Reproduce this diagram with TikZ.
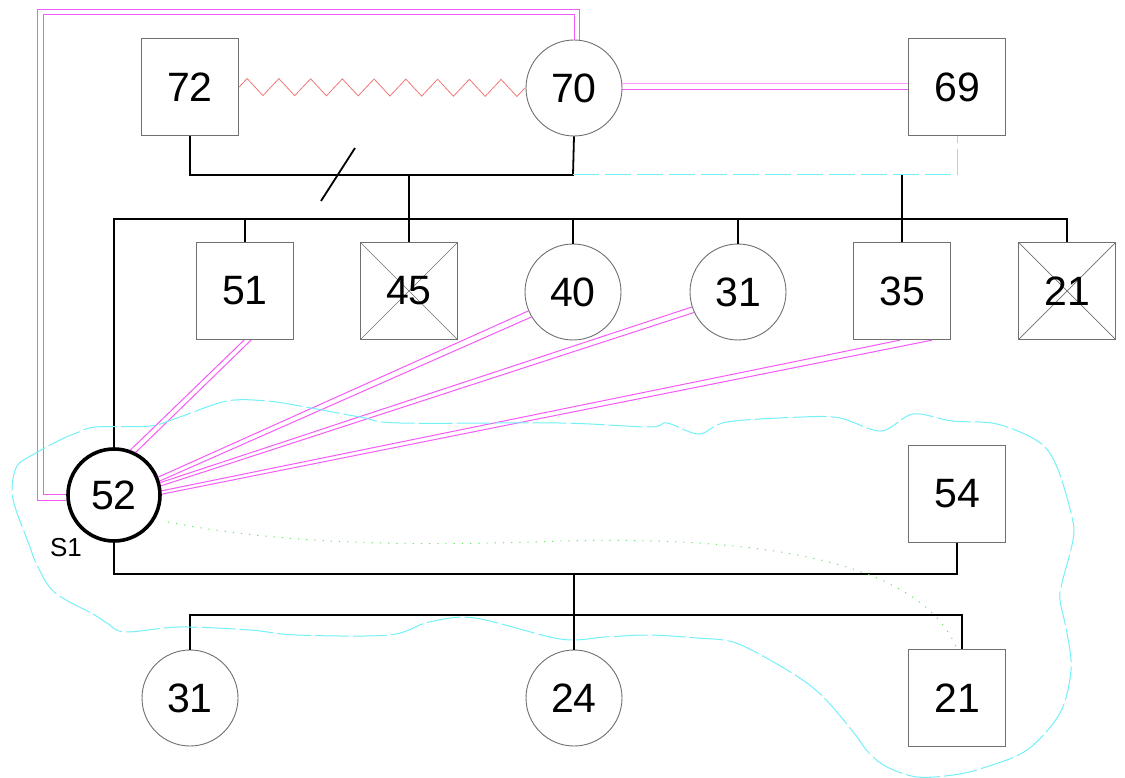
\documentclass[tikz,border=0pt]{standalone}
\usepackage{fontspec}
\setmainfont{Liberation Sans}
\usetikzlibrary{decorations.pathmorphing,calc}

\definecolor{edgegray}{RGB}{112,112,112}
\definecolor{linkpink}{RGB}{246,90,246}
\definecolor{lightpink}{RGB}{255,150,255}
\definecolor{zigred}{RGB}{240,120,120}
\definecolor{zonecyan}{RGB}{115,240,248}
\definecolor{dotgreen}{RGB}{95,235,95}

\begin{document}
\begin{tikzpicture}[x=1pt,y=-1pt,
  every node/.style={font=\fontsize{41}{41}\selectfont},
  male/.style={draw=edgegray, line width=1.3pt, minimum size=97pt, inner sep=0pt, fill=white},
  female/.style={circle, draw=edgegray, line width=0.9pt, minimum size=96pt, inner sep=0pt, fill=white},
  crossed/.style={path picture={\draw[edgegray, line width=0.7pt]
      (path picture bounding box.north west) -- (path picture bounding box.south east)
      (path picture bounding box.north east) -- (path picture bounding box.south west);}},
  index/.style={circle, draw=black, line width=3.6pt, minimum size=92pt, inner sep=0pt, fill=white},
  tie/.style={line width=1.8pt, black},
  pinkline/.style={line width=1pt, linkpink},
  zig/.style={zigred, line width=0.8pt, decorate,
      decoration={zigzag, segment length=31.75pt, amplitude=8.5pt}},
  cyandash/.style={zonecyan, line width=1pt, dash pattern=on 26pt off 6pt},
  zone/.style={zonecyan, line width=1pt, dash pattern=on 34pt off 4pt},
  dotline/.style={dotgreen, line width=1pt, dash pattern=on 1.2pt off 7pt},
]
\useasboundingbox (0,0) rectangle (1125,778);

% first generation
\node[male]   (n72) at (190,87)  {72};
\node[female] (n70) at (574,88)  {70};
\node[male]   (n69) at (957,87)  {69};

% second generation
\node[male]           (n51)  at (245,291)  {51};
\node[male,crossed]   (n45)  at (409,291)  {45};
\node[female]         (n40)  at (573,292)  {40};
\node[female]         (n31a) at (738,292)  {31};
\node[male]           (n35)  at (902,291)  {35};
\node[male,crossed]   (n21a) at (1067,291) {21};

% index couple
\node[index] (n52) at (114,495) {52};
\node[male]  (n54) at (957,494) {54};
\node[font=\fontsize{26}{26}\selectfont] (s1) at (66,548) {S1};

% third generation
\node[female] (n31b) at (190,698) {31};
\node[female] (n24)  at (574,698) {24};
\node[male]   (n21b) at (957,698) {21};

% junction points of the family lines
\coordinate (k70)  at (573,175);
\coordinate (sib1) at (409,175);
\coordinate (k69)  at (902,175);
\coordinate (barL) at (114,219);
\coordinate (barR) at (1067,219);
\coordinate (bar2) at (574,574);
\coordinate (bar3) at (962,615);

% union of 72 and 70, sibship line
\draw[tie] (n72.south) |- (k70) -- (n70.south);
\draw[tie] (sib1) -- (sib1 |- barL);
\draw[tie] (n52.north) -- (barL) -- (barR) -- (n21a.north);
\foreach \c in {n51,n45,n40,n31a}
  \draw[tie] (\c.north) -- (\c.north |- barL);
\draw[tie] (k69) -- (n35.north);
\draw[tie] (321,201) -- (355,148);

% separated union 70 -- 69
\draw[cyandash] (k70) -| (n69.south);

% union of 52 and 54, their children
\draw[tie] (n52.south) |- (bar2) -| (n54.south);
\draw[tie] (bar2) -- (n24.north);
\draw[tie] (n31b.north) |- (bar3) -- (bar3 |- n21b.north);

% emotional ties
\draw[zig] (n72.east) -- (n70.west);
\draw[pinkline, lightpink] ($(n70.east)+(0,-4.5)$) -- ($(n69.west)+(0,-3.5)$);
\draw[pinkline] ($(n70.east)+(0,1.5)$) -- ($(n69.west)+(0,2.5)$);
\draw[pinkline] ($(n52.west)+(0,5)$) -| (37,10) -| ($(n70.north)+(5,0)$);
\draw[pinkline] ($(n52.west)+(0,-1)$) -| (43,15) -| ($(n70.north)+(0,0)$);

\draw[pinkline] (n52.70) -- ($(n51.south)+(-1,0)$);
\draw[pinkline] (n52.63) -- ($(n51.south)+(6,0)$);
\draw[pinkline] (n52.22) -- (n40.203);
\draw[pinkline] (n52.17) -- (n40.211);
\draw[pinkline] (n52.15) -- (n31a.198);
\draw[pinkline] (n52.11) -- (n31a.205);
\draw[pinkline] (n52.5)  -- ($(n35.south)+(-2,0)$);
\draw[pinkline] (n52.1)  -- ($(n35.south)+(30,0)$);

% dotted link from 52 to 21
\draw[dotline] ($(n52.center)+(54,27)$) .. controls (300,548) and (450,545) .. (560,541)
  .. controls (760,536) and (920,560) .. (n21b.north);

% household boundary
\draw[zone] plot[smooth cycle, tension=0.55] coordinates {
  (12,490) (17,466) (36,453) (60,440) (79,432) (96,427) (150,426) (177,418)
  (227,401) (267,401) (300,406) (360,417) (400,423) (560,423) (649,427)
  (667,423) (699,434) (727,422) (802,417) (840,418) (881,431) (913,414)
  (952,421) (997,424) (1039,442) (1057,467) (1072,517) (1073,540) (1062,583)
  (1060,600) (1067,633) (1071,670) (1060,713) (1027,750) (983,768) (953,775)
  (917,777) (887,767) (869,753) (854,733) (829,703) (807,683) (770,660)
  (733,642) (697,638) (649,635) (605,637) (560,639) (475,618) (429,622)
  (389,635) (296,635) (250,630) (179,627) (125,632) (107,623) (93,614)
  (54,592) (36,563) (30,547) (16,510)};
\end{tikzpicture}
\end{document}
